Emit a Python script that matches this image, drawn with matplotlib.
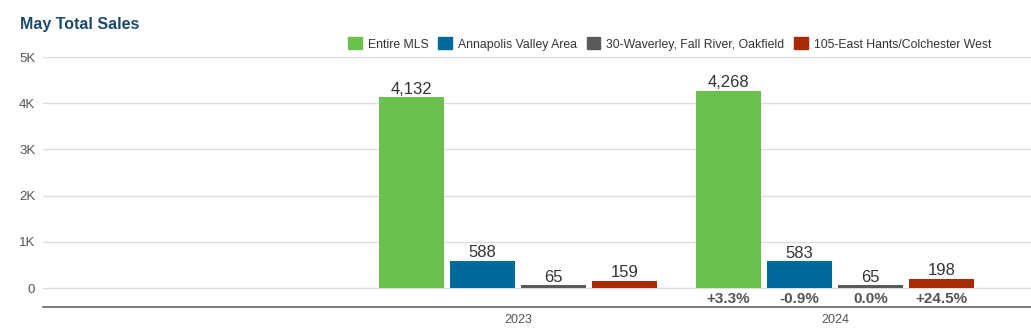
import numpy as np
import matplotlib
matplotlib.use("Agg")
import matplotlib.pyplot as plt
from matplotlib.patches import Patch

plt.rcParams['font.family'] = ['Liberation Sans', 'DejaVu Sans']

categories = ["", "2023", "2024"]
series_names = ["Entire MLS", "Annapolis Valley Area",
                "30-Waverley, Fall River, Oakfield", "105-East Hants/Colchester West"]
entire_mls = [np.nan, 4132, 4268]
annapolis = [np.nan, 588, 583]
waverley = [np.nan, 65, 65]
east_hants = [np.nan, 159, 198]
pct_change = ["+3.3%", "-0.9%", "0.0%", "+24.5%"]
y_ticks = [0, 1000, 2000, 3000, 4000, 5000]
y_labels = ["0", "1K", "2K", "3K", "4K", "5K"]

colors = ["#6BBF4C", "#006A9B", "#5A5A5A", "#A82B06"]
series = [entire_mls, annapolis, waverley, east_hants]

fig = plt.figure(figsize=(10.31, 3.28), dpi=100)
ax = fig.add_axes([43/1031, 1-307/328, 1-43/1031, (307-57)/328])

x = np.arange(len(categories))
bw = 0.205
step = 0.2245
offsets = (np.arange(4) - 1.5) * step

for vals, off, c in zip(series, offsets, colors):
    v = np.array(vals, dtype=float)
    ax.bar(x + off, v, width=bw, color=c, zorder=3)
    for xi, vi in zip(x + off, v):
        if not np.isnan(vi):
            ax.text(xi, vi + 10, f"{int(vi):,}", ha="center", va="bottom",
                    fontsize=12, color="#333333", zorder=4)

# percent change labels under last category
for off, p in zip(offsets, pct_change):
    ax.text(x[-1] + off, -240, p, ha="center", va="center", fontsize=11,
            fontweight="bold", color="#555555")

ax.set_xlim(-0.498, 2.618)
ax.set_ylim(-411, 5000)
ax.set_yticks(y_ticks)
ax.set_yticklabels(y_labels)
ax.grid(axis="y", color="#DDDDDD", linewidth=1, zorder=0)
ax.set_xticks(x)
ax.set_xticklabels(categories)
ax.tick_params(axis="both", length=0, labelsize=9.5, labelcolor="#555555")
ax.tick_params(axis="x", pad=5, labelsize=9)
ax.tick_params(axis="y", pad=5.5)
for s in ["top", "right", "left"]:
    ax.spines[s].set_visible(False)
ax.spines["bottom"].set_color("#666666")
ax.spines["bottom"].set_linewidth(1.2)

fig.text(20/1031, 1-24/328, "May Total Sales", fontsize=11.5, fontweight="bold",
         color="#1B4A6E", ha="left", va="center")

handles = [Patch(facecolor=c, edgecolor=c) for c in colors]
leg = fig.legend(handles, series_names, loc="center right",
                 bbox_to_anchor=(996/1031, 1-44/328), ncol=4, frameon=False,
                 fontsize=8.8, handlelength=1.1, handleheight=1.1,
                 handletextpad=0.5, columnspacing=0.8, borderaxespad=0)
for t in leg.get_texts():
    t.set_color("#333333")

fig.savefig("out.png", dpi=100)
